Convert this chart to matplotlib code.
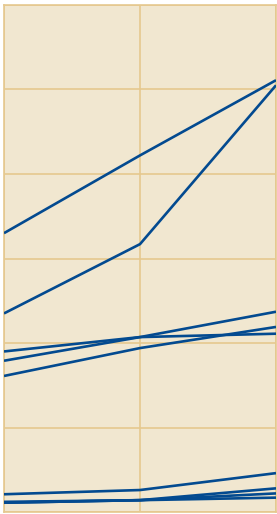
"""
Slope chart: nine series across three points, no labels.
"""
import matplotlib
matplotlib.use("Agg")
import matplotlib.pyplot as plt

# Data (y in grid units of 100)
x_points = [0, 1, 2]
series = [
    [330, 422, 511],
    [235, 317, 505],
    [190, 207, 211],
    [179, 207, 237],
    [161, 194, 219],
    [21, 26, 46],
    [12, 14, 28],
    [11, 14, 22],
    [11, 14, 17],
]
y_ticks = [0, 100, 200, 300, 400, 500, 600]

BG = "#F1E7D0"
GRID = "#E5C88F"
LINE = "#034A90"

fig = plt.figure(figsize=(2.77, 5.14), dpi=100)
ax = fig.add_axes([4 / 277, 2 / 514, 272 / 277, 507 / 514])
ax.set_facecolor(BG)

for values in series:
    ax.plot(x_points, values, color=LINE, linewidth=1.9, solid_capstyle="butt", zorder=3)

ax.set_xlim(0, 2)
ax.set_ylim(0, 600)
ax.set_xticks(x_points)
ax.set_yticks(y_ticks)
ax.grid(True, color=GRID, linewidth=1.2, zorder=1)
ax.tick_params(length=0, labelbottom=False, labelleft=False)
for spine in ax.spines.values():
    spine.set_color(GRID)
    spine.set_linewidth(1.2)

fig.savefig("out.png", dpi=100)
